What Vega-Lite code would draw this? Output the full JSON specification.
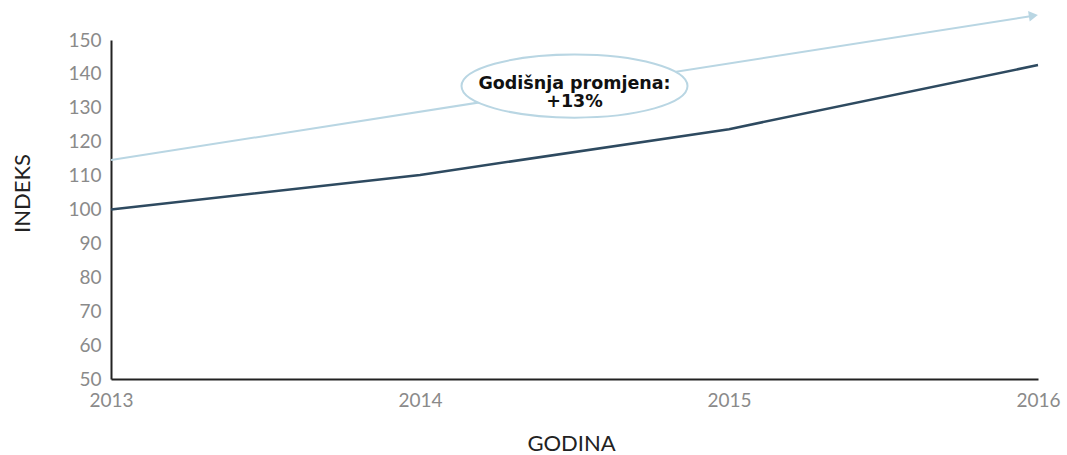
{
  "$schema": "https://vega.github.io/schema/vega-lite/v6.json",
  "width": 927,
  "height": 339,
  "autosize": {"type": "none"},
  "padding": {"left": 111, "top": 40, "right": 29, "bottom": 76},
  "background": "white",
  "config": {"view": {"stroke": null}},
  "datasets": {
    "indeks": [
      {"year": 2013, "value": 100},
      {"year": 2014, "value": 110.2},
      {"year": 2015, "value": 123.7},
      {"year": 2016, "value": 142.6}
    ],
    "trend": [
      {"year": 2013, "value": 114.6},
      {"year": 2015.975, "value": 157.0}
    ],
    "arrow": [{"year": 2015.985, "value": 157.2}],
    "note": [{"year": 2014.5, "value": 136.4, "label": "Godišnja promjena:\n+13%"}]
  },
  "encoding": {
    "x": {
      "field": "year", "type": "quantitative",
      "scale": {"domain": [2013, 2016], "nice": false, "zero": false},
      "axis": {
        "title": "GODINA", "values": [2013, 2014, 2015, 2016], "format": "d",
        "grid": false, "ticks": false, "domainColor": "#222", "domainWidth": 2,
        "labelFont": "Lato", "labelFontSize": 19, "labelColor": "#8a8a8a", "labelPadding": 12,
        "labelFlush": false,
        "titleFont": "Lato", "titleFontSize": 22, "titleFontWeight": "normal", "titleColor": "#222",
        "titleX": 460, "titleY": 64, "titleBaseline": "middle", "titleAlign": "center"
      }
    },
    "y": {
      "field": "value", "type": "quantitative",
      "scale": {"domain": [50, 150], "nice": false, "zero": false},
      "axis": {
        "title": "INDEKS", "values": [50, 60, 70, 80, 90, 100, 110, 120, 130, 140, 150],
        "grid": false, "ticks": false, "domainColor": "#222", "domainWidth": 2,
        "labelFont": "Lato", "labelFontSize": 19, "labelColor": "#8a8a8a", "labelPadding": 10,
        "titleFont": "Lato", "titleFontSize": 22, "titleFontWeight": "normal", "titleColor": "#222",
        "titleAngle": -90, "titleX": -89, "titleY": 153, "titleBaseline": "middle", "titleAlign": "center"
      }
    }
  },
  "layer": [
    {
      "data": {"name": "trend"},
      "mark": {"type": "line", "color": "#b9d6e3", "strokeWidth": 2, "clip": false}
    },
    {
      "data": {"name": "arrow"},
      "mark": {"type": "point", "shape": "triangle-right", "filled": true, "color": "#b9d6e3", "size": 110, "angle": -8.9, "opacity": 1, "clip": false}
    },
    {
      "data": {"name": "indeks"},
      "mark": {"type": "line", "color": "#2e4a60", "strokeWidth": 2.5}
    },
    {
      "data": {"name": "note"},
      "mark": {"type": "point", "shape": "M -1 0 A 1 0.279 0 1 0 1 0 A 1 0.279 0 1 0 -1 0 Z", "size": 51076, "filled": false, "fill": "white", "fillOpacity": 1, "stroke": "#b9d6e3", "strokeWidth": 2, "opacity": 1}
    },
    {
      "data": {"name": "note"},
      "mark": {"type": "text", "font": "DejaVu Sans", "fontWeight": "bold", "fontSize": 17.5, "color": "#111", "lineBreak": "\n", "lineHeight": 18, "align": "center", "baseline": "middle", "dy": -2},
      "encoding": {"text": {"field": "label"}}
    }
  ]
}
